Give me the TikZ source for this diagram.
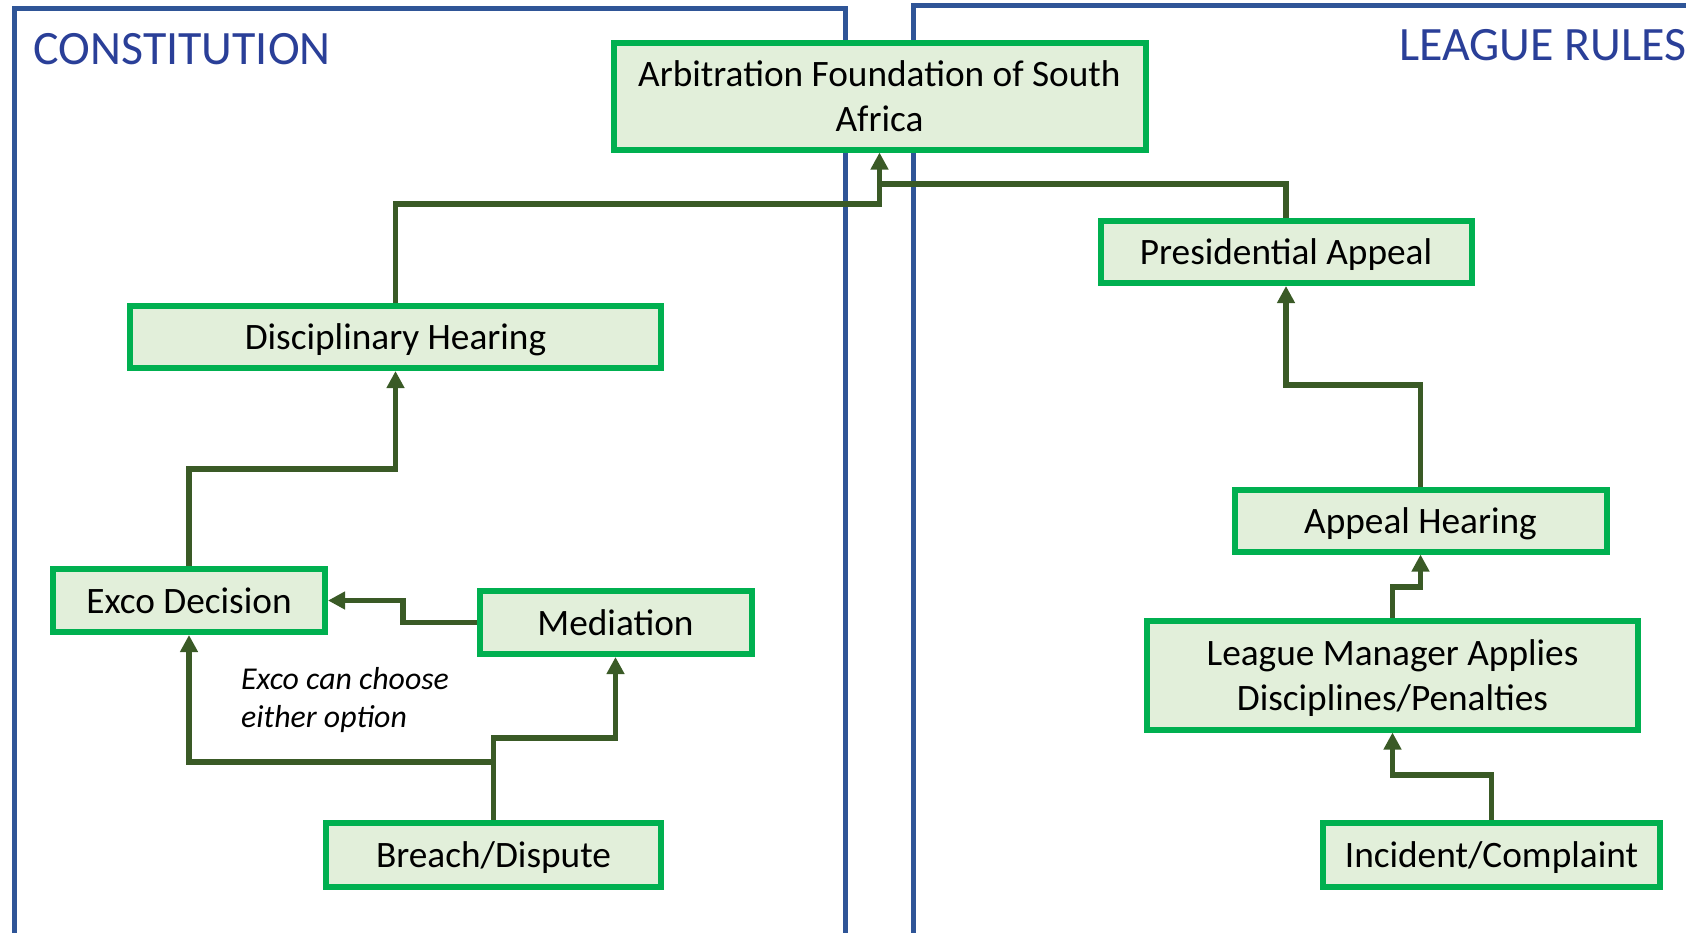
\documentclass[tikz,border=0pt]{standalone}
\usepackage{fontspec}
\setmainfont{Carlito}
\usetikzlibrary{arrows.meta}
\definecolor{boxgreen}{HTML}{00B050}
\definecolor{boxfill}{HTML}{E2EFDA}
\definecolor{connc}{HTML}{3A5A26}
\definecolor{frameblue}{HTML}{2F5597}
\definecolor{headblue}{HTML}{2A3F98}
\begin{document}
\begin{tikzpicture}[x=1pt,y=-1pt,
  box/.style={draw=boxgreen, line width=6pt, fill=boxfill, inner sep=0pt, align=center, font=\fontsize{37.3}{45.5}\selectfont, text=black},
  one/.style={text height=35.5pt, text depth=10pt},
  two/.style={text height=81pt, text depth=10pt},
  link/.style={draw=connc, line width=5.5pt},
  arr/.style={link, -{Triangle[width=17pt,length=17pt]}},
  frame/.style={draw=frameblue, line width=5pt},
  head/.style={text=headblue, font=\fontsize{47.9}{58}\selectfont, inner sep=0pt, anchor=base west},
  note/.style={font=\itshape\fontsize{31.8}{37.5}\selectfont, align=left, inner sep=0pt, anchor=base west}]
\useasboundingbox (0,0) rectangle (1686,932);
\clip (0,0) rectangle (1686,932);
\coordinate (j1) at (493.5,762);
\coordinate (j2) at (493.5,738);
\coordinate (b1) at (403,622.5);
\coordinate (b2) at (189,469);
\coordinate (b3) at (395.5,204);
\coordinate (m2) at (879.5,184);
\coordinate (b5) at (1420.5,385);
\coordinate (b6) at (1392.5,587);
\coordinate (b7) at (1491.5,775);
% frames
\draw[frame] (14,950) -- (14,8.5) -- (845.5,8.5) -- (845.5,950);
\draw[frame] (913.5,950) -- (913.5,5) -- (1700,5);
\node[head] (hcon) at (33.5,64) {CONSTITUTION};
\node[head] (hlea) at (1399,60) {LEAGUE RULES};
% boxes
\node[box, two, minimum width=532pt, minimum height=107pt] (arb) at (879.5,96) {Arbitration Foundation of South\\Africa};
\node[box, one, minimum width=371pt, minimum height=62pt] (pres) at (1286,252) {Presidential Appeal};
\node[box, one, minimum width=531pt, minimum height=62pt] (disc) at (395.5,337) {Disciplinary Hearing};
\node[box, one, minimum width=372pt, minimum height=62pt] (appeal) at (1420.5,520.5) {Appeal Hearing};
\node[box, one, minimum width=272pt, minimum height=63pt] (exco) at (189,600.5) {Exco Decision};
\node[box, one, minimum width=272pt, minimum height=63pt] (med) at (615.5,622.5) {Mediation};
\node[box, two, minimum width=491pt, minimum height=109pt] (lm) at (1392.5,675) {League Manager Applies\\Disciplines/Penalties};
\node[box, one, minimum width=335pt, minimum height=64pt] (breach) at (493.5,855) {Breach/Dispute};
\node[box, one, minimum width=337pt, minimum height=64pt] (inc) at (1491.5,855) {Incident/Complaint};
\node[note] (opt) at (241,727) {Exco can choose\\either option};
% connectors
\draw[arr] (breach.north) -- (j1) -| (exco.south);
\draw[arr] (j1) -- (j2) -| (med.south);
\draw[arr] (med.west) -- (b1) |- (exco.east);
\draw[arr] (exco.north) -- (b2) -| (disc.south);
\draw[link] (pres.north) |- (m2);
\draw[arr] (disc.north) -- (b3) -| (arb.south);
\draw[arr] (appeal.north) -- (b5) -| (pres.south);
\draw[arr] (lm.north) -- (b6) -| (appeal.south);
\draw[arr] (inc.north) -- (b7) -| (lm.south);
\end{tikzpicture}
\end{document}
